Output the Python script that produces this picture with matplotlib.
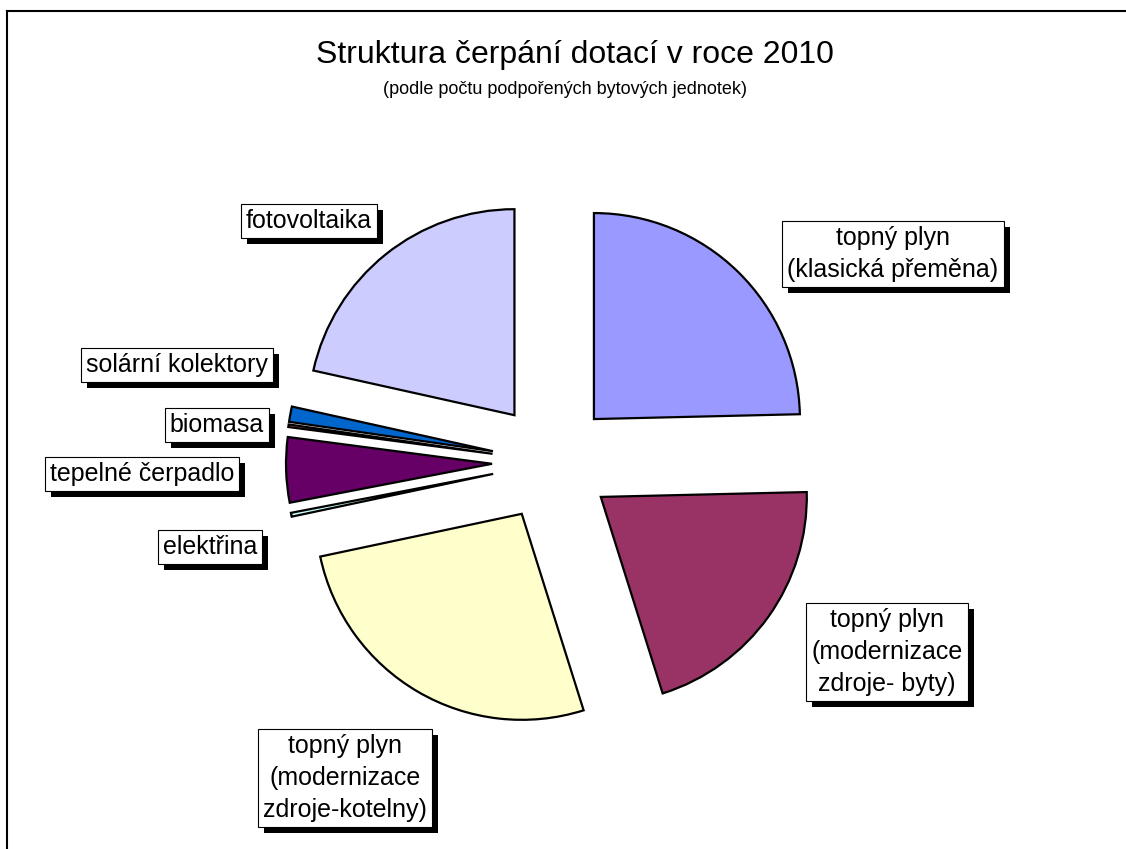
import matplotlib.pyplot as plt
from matplotlib.lines import Line2D
from matplotlib.patches import Rectangle
from matplotlib.transforms import IdentityTransform

plt.rcParams['font.family'] = ['Liberation Sans', 'DejaVu Sans']

labels = ["topný plyn\n(klasická přeměna)",
          "topný plyn\n(modernizace\nzdroje- byty)",
          "topný plyn\n(modernizace\nzdroje-kotelny)",
          "elektřina",
          "tepelné čerpadlo",
          "biomasa",
          "solární kolektory",
          "fotovoltaika"]
shares = [24.6, 20.5, 26.5, 0.3, 5.1, 0.2, 1.2, 21.5]
colors = ["#9999FF", "#993366", "#FFFFCC", "#CCFFFF",
          "#660066", "#FF8080", "#0066CC", "#CCCCFF"]

# label box centres in pixels (x, y from top)
label_pos = [(893, 254), (887, 652), (345, 778), (210, 547),
             (142, 474), (217, 425), (177, 365), (309, 221)]

W, H = 1126, 849
fig = plt.figure(figsize=(W / 100, H / 100), dpi=100)
ax = fig.add_axes([0, 0, 1, 1])

ax.pie(shares, colors=colors, startangle=90, counterclock=False,
       center=(552, H - 462), radius=206, explode=[60] * len(shares),
       wedgeprops=dict(edgecolor="black", linewidth=1.6), frame=True)
ax.set_xlim(0, W)
ax.set_ylim(0, H)
ax.set_aspect("equal")
ax.axis("off")

texts = []
for txt, (x, y) in zip(labels, label_pos):
    t = ax.text(x, H - y, txt, ha="center", va="center", fontsize=18,
                multialignment="center", linespacing=1.4,
                bbox=dict(boxstyle="square,pad=0.2", fc="white", ec="black", lw=0.8),
                zorder=5)
    texts.append(t)

# drop shadows behind the label boxes
fig.canvas.draw()
for t in texts:
    bb = t.get_bbox_patch().get_window_extent()
    ax.add_artist(Rectangle((bb.x0 + 6, bb.y0 - 6), bb.width, bb.height,
                            transform=IdentityTransform(), fc="black",
                            ec="none", zorder=4))

fig.text(575 / W, 1 - 55 / H, "Struktura čerpání dotací v roce 2010",
         ha="center", va="center", fontsize=23)
fig.text(565 / W, 1 - 89 / H, "(podle počtu podpořených bytových jednotek)",
         ha="center", va="center", fontsize=13)

fig.add_artist(Line2D([7 / W, 1], [1 - 11 / H, 1 - 11 / H], color="black", lw=1.5))
fig.add_artist(Line2D([7 / W, 7 / W], [0, 1 - 11 / H], color="black", lw=1.5))

fig.savefig("out.png", dpi=100)
